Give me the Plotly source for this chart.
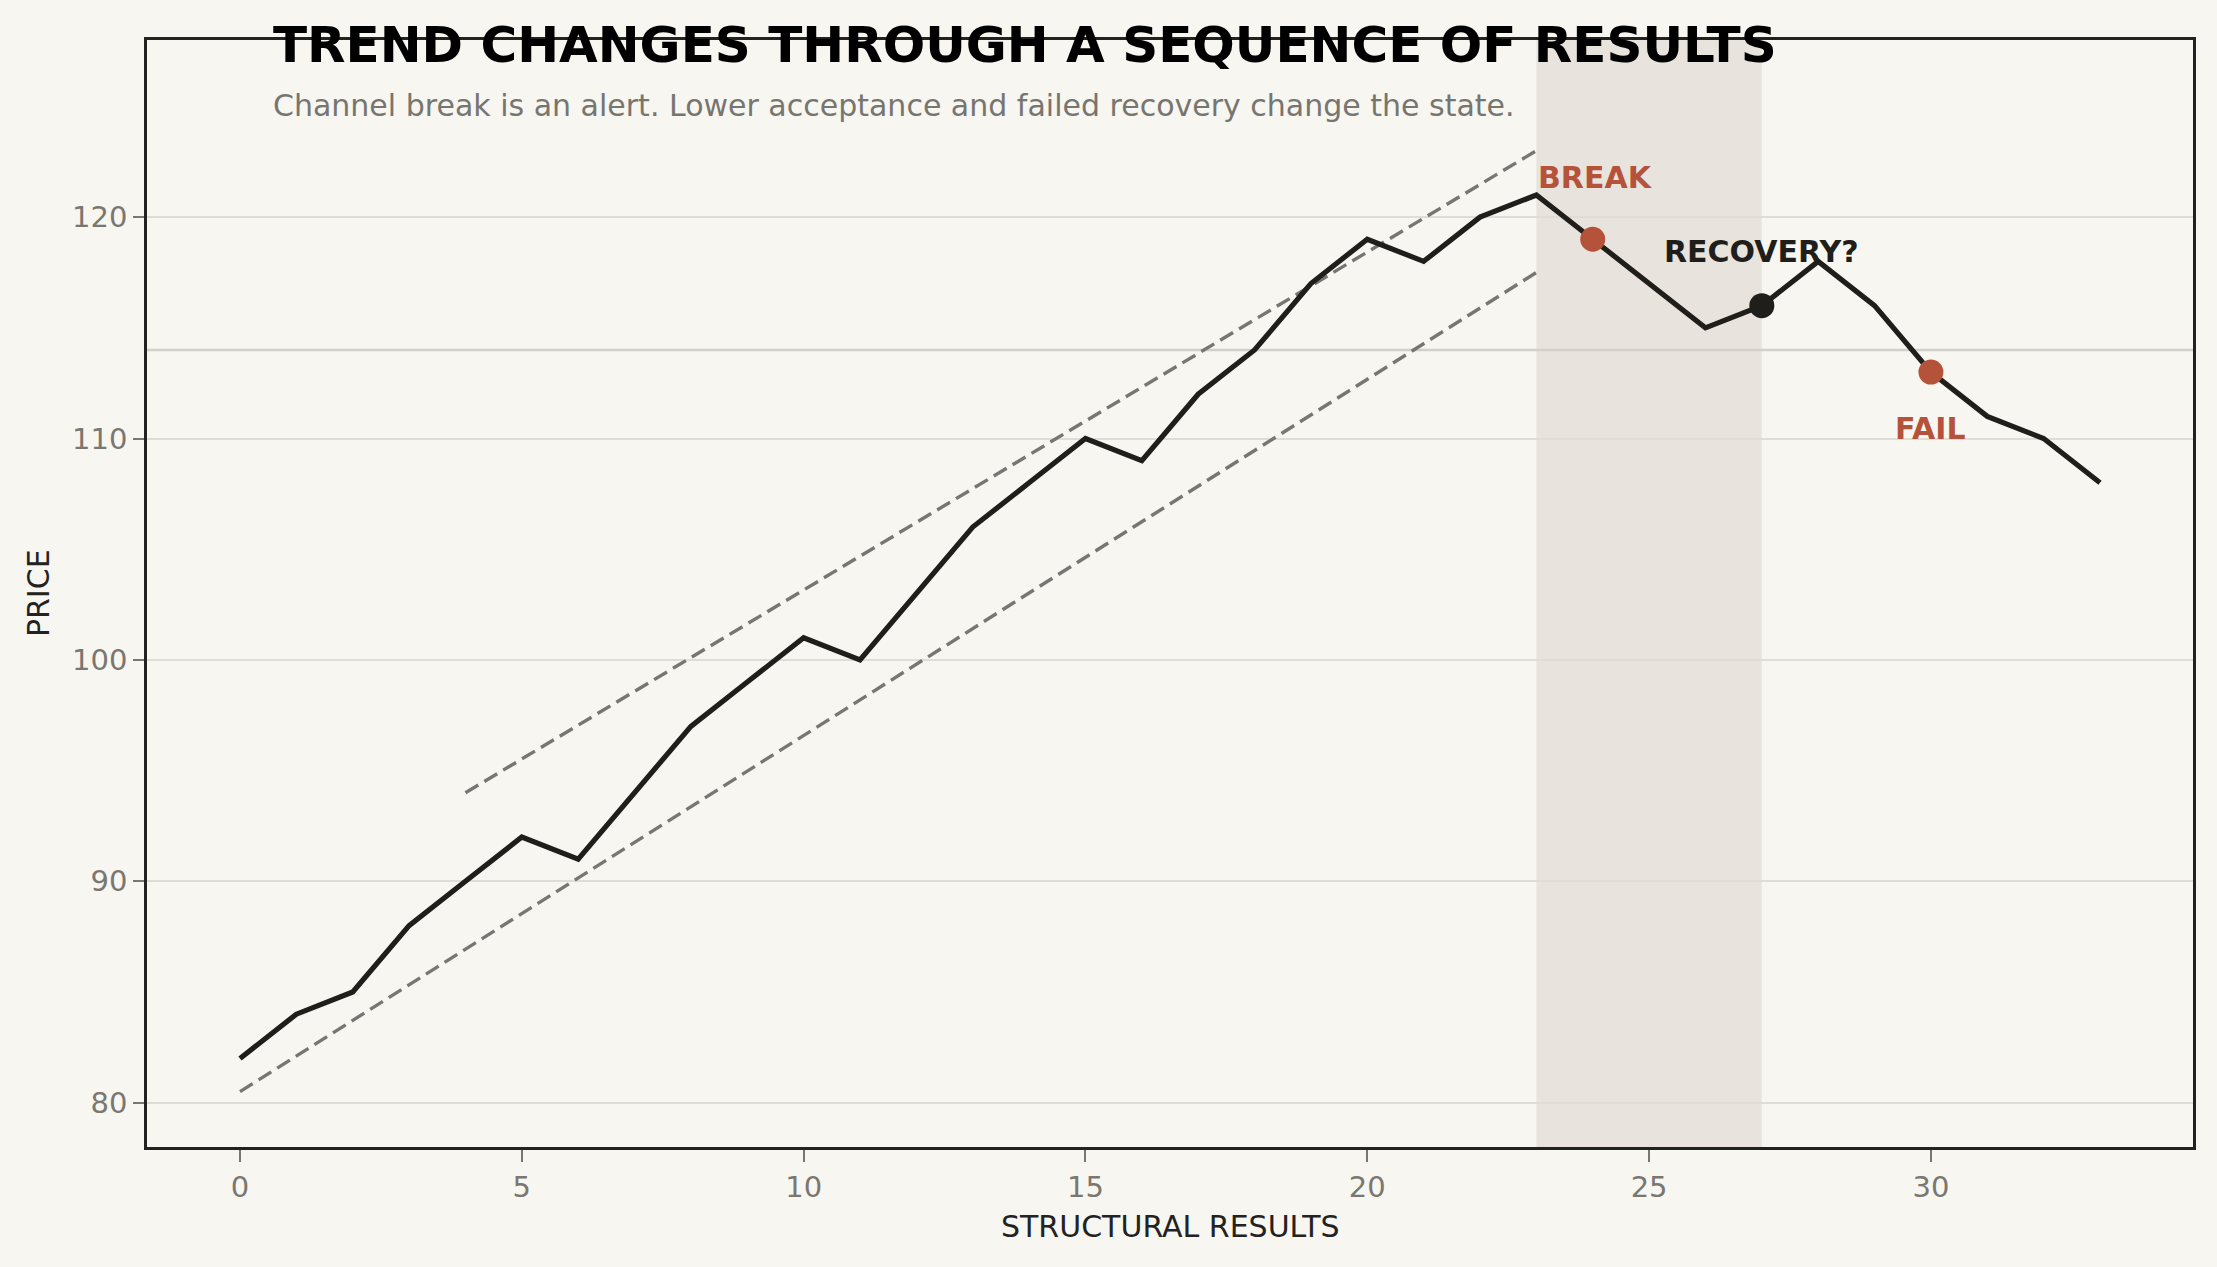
import plotly.graph_objects as go

# ---- data ----
steps = list(range(34))
price = [82, 84, 85, 88, 90, 92, 91, 94, 97, 99, 101, 100, 103, 106, 108, 110, 109,
         112, 114, 117, 119, 118, 120, 121, 119, 117, 115, 116, 118, 116, 113, 111, 110, 108]
upper_x = [4, 23]
upper_y = [94.0, 123.0]
lower_x = [0, 23]
lower_y = [80.5, 117.5]
level = 114
zone = [23, 27]
event_x = [24, 27, 30]
event_labels = ["BREAK", "RECOVERY?", "FAIL"]
x_ticks = [0, 5, 10, 15, 20, 25, 30]
y_ticks = [80, 90, 100, 110, 120]

BG = "#f7f6f1"
INK = "#1f1e1b"
RUST = "#b5533a"
GREY = "#777672"
FONT = "DejaVu Sans"

event_y = [price[steps.index(v)] for v in event_x]
event_colors = [RUST, INK, RUST]

fig = go.Figure()

fig.add_shape(type="rect", xref="x", yref="paper", x0=zone[0], x1=zone[1], y0=0, y1=1,
              fillcolor="#e8e4dd", line_width=0, layer="below")
fig.add_shape(type="line", xref="paper", yref="y", x0=0, x1=1, y0=level, y1=level,
              line=dict(color="#d3d0c9", width=2.5), layer="below")

fig.add_trace(go.Scatter(x=upper_x, y=upper_y, mode="lines",
                         line=dict(color=GREY, width=3.4, dash="15px,7px"), hoverinfo="skip"))
fig.add_trace(go.Scatter(x=lower_x, y=lower_y, mode="lines",
                         line=dict(color=GREY, width=3.4, dash="15px,7px"), hoverinfo="skip"))
fig.add_trace(go.Scatter(x=steps, y=price, mode="lines",
                         line=dict(color=INK, width=5.2)))
fig.add_trace(go.Scatter(x=event_x, y=event_y, mode="markers",
                         marker=dict(size=25, color=event_colors, line_width=0)))

# event labels
fig.add_annotation(x=zone[0], y=121.8, text="<b>" + event_labels[0] + "</b>", showarrow=False,
                   xanchor="left", yanchor="middle", font=dict(family=FONT, size=30, color=RUST))
fig.add_annotation(x=event_x[1], y=118.45, text="<b>" + event_labels[1] + "</b>", showarrow=False,
                   xanchor="center", yanchor="middle", font=dict(family=FONT, size=30, color=INK))
fig.add_annotation(x=event_x[2], y=110.45, text="<b>" + event_labels[2] + "</b>", showarrow=False,
                   xanchor="center", yanchor="middle", font=dict(family=FONT, size=30, color=RUST))

# title & subtitle
fig.add_annotation(xref="paper", yref="paper", x=0.0605, y=0.9955, xanchor="left", yanchor="middle",
                   text="<b>TREND CHANGES THROUGH A SEQUENCE OF RESULTS</b>", showarrow=False,
                   font=dict(family=FONT, size=50, color="#000000"))
fig.add_annotation(xref="paper", yref="paper", x=0.0605, y=0.9405, xanchor="left", yanchor="middle",
                   text="Channel break is an alert. Lower acceptance and failed recovery change the state.",
                   showarrow=False, font=dict(family=FONT, size=30, color="#77756f"))

# axis titles
fig.add_annotation(xref="paper", yref="paper", x=0.5, y=-0.0714, xanchor="center", yanchor="middle",
                   text="STRUCTURAL RESULTS", showarrow=False,
                   font=dict(family=FONT, size=30, color="#222222"))
fig.add_annotation(xref="paper", yref="paper", x=-0.0530, y=0.5, xanchor="center", yanchor="middle",
                   text="PRICE", textangle=-90, showarrow=False,
                   font=dict(family=FONT, size=30, color="#222222"))

fig.update_layout(
    width=2217, height=1267,
    margin=dict(l=147, r=24, t=40, b=120, pad=0),
    paper_bgcolor=BG, plot_bgcolor=BG,
    showlegend=False,
    font=dict(family=FONT),
)
fig.update_xaxes(range=[-1.65, 34.65], tickvals=x_ticks, ticks="outside", ticklen=12,
                 tickwidth=2, tickcolor="#777672", showgrid=False, zeroline=False,
                 showline=True, mirror=True, linecolor="#222222", linewidth=2.5,
                 tickfont=dict(family=FONT, size=29, color="#7a7770"))
fig.update_yaxes(range=[78, 128], tickvals=y_ticks, ticks="outside", ticklen=11,
                 tickwidth=2, tickcolor="#777672", showgrid=True, gridcolor="#e0ddd6",
                 gridwidth=1.5, zeroline=False,
                 showline=True, mirror=True, linecolor="#222222", linewidth=2.5,
                 tickfont=dict(family=FONT, size=29, color="#7a7770"))

fig.write_html("out.html")
